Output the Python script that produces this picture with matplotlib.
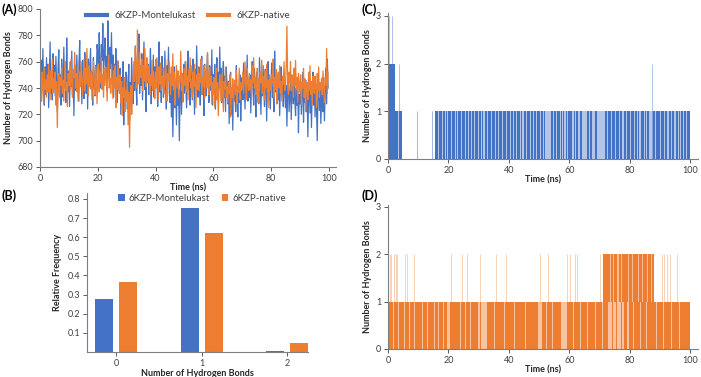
import matplotlib
matplotlib.use("Agg")
import matplotlib.pyplot as plt
import numpy as np

plt.rcParams["font.family"] = ["Lato", "DejaVu Sans"]

BLUE = "#4472C4"
ORANGE = "#ED7D31"
GREY = "#404040"

# ---- (A) total hydrogen bonds, one value every 0.25 ns ----
hb_mont = [
    752, 730, 761, 738, 770, 744, 727, 756, 735, 763,
    741, 758, 725, 749, 775, 736, 752, 731, 766, 743,
    757, 734, 764, 742, 722, 755, 769, 738, 750, 727,
    762, 745, 733, 771, 740, 756, 729, 778, 746, 737,
    753, 726, 760, 741, 768, 735, 749, 719, 758, 744,
    738, 765, 747, 730, 759, 776, 742, 753, 728, 761,
    745, 732, 767, 750, 736, 758, 724, 762, 741, 755,
    770, 739, 752, 727, 763, 745, 734, 757, 748, 773,
    768, 745, 782, 756, 740, 773, 761, 789, 750, 766,
    778, 752, 764, 738, 791, 759, 747, 771, 755, 782,
    746, 765, 733, 758, 742, 770, 751, 729, 760, 744,
    737, 755, 720, 748, 731, 760, 712, 745, 727, 752,
    749, 724, 739, 758, 716, 744, 733, 763, 740, 728,
    755, 738, 772, 745, 727, 760, 750, 781, 736, 757,
    742, 766, 731, 753, 775, 739, 748, 722, 761, 744,
    758, 735, 749, 770, 728, 752, 741, 765, 733, 756,
    740, 762, 747, 726, 758, 775, 737, 751, 729, 764,
    752, 733, 745, 768, 740, 724, 757, 746, 771, 737,
    729, 750, 718, 742, 703, 735, 756, 725, 744, 712,
    748, 727, 739, 700, 733, 752, 720, 745, 730, 758,
    736, 760, 742, 725, 753, 768, 739, 748, 727, 757,
    743, 731, 762, 749, 720, 754, 738, 772, 745, 733,
    756, 740, 727, 750, 764, 735, 746, 719, 758, 741,
    734, 753, 766, 742, 729, 757, 745, 738, 769, 727,
    750, 737, 758, 724, 747, 763, 732, 752, 740, 771,
    738, 755, 729, 746, 760, 733, 749, 722, 756, 742,
    728, 745, 713, 739, 752, 720, 736, 708, 741, 730,
    744, 722, 757, 733, 718, 740, 729, 750, 715, 737,
    748, 731, 759, 742, 724, 753, 737, 765, 730, 745,
    733, 750, 721, 746, 760, 739, 727, 755, 742, 718,
    752, 736, 745, 728, 763, 741, 720, 749, 734, 757,
    738, 726, 754, 743, 715, 747, 760, 731, 746, 724,
    745, 759, 733, 740, 722, 768, 737, 750, 728, 744,
    731, 748, 719, 742, 756, 735, 745, 726, 752, 739,
    725, 742, 711, 737, 750, 722, 733, 745, 716, 738,
    742, 728, 755, 730, 719, 740, 727, 748, 706, 735,
    728, 745, 720, 736, 752, 714, 740, 729, 746, 722,
    737, 703, 733, 748, 721, 741, 710, 736, 752, 727,
    745, 718, 739, 726, 700, 735, 744, 723, 740, 713,
    730, 748, 722, 741, 715, 738, 755, 728, 762, 740,
]
hb_native = [
    735, 748, 730, 752, 741, 728, 755, 739, 746, 733,
    750, 737, 758, 744, 731, 753, 740, 762, 736, 747,
    739, 752, 727, 745, 710, 738, 751, 733, 748, 742,
    755, 736, 746, 730, 749, 760, 738, 744, 726, 751,
    742, 756, 739, 762, 745, 733, 754, 748, 767, 740,
    751, 737, 758, 744, 730, 752, 741, 760, 746, 735,
    749, 762, 738, 755, 743, 770, 747, 734, 757, 745,
    740, 753, 731, 748, 760, 742, 735, 756, 749, 728,
    746, 758, 737, 752, 744, 763, 739, 750, 733, 755,
    742, 756, 748, 730, 751, 765, 740, 747, 736, 758,
    744, 732, 753, 740, 757, 725, 748, 739, 761, 743,
    736, 750, 728, 745, 719, 740, 733, 748, 722, 738,
    730, 745, 712, 737, 695, 728, 742, 720, 736, 748,
    760, 745, 771, 752, 740, 784, 756, 743, 767, 750,
    748, 762, 738, 757, 745, 770, 752, 741, 763, 749,
    744, 757, 735, 750, 742, 761, 738, 753, 746, 732,
    752, 740, 763, 745, 731, 756, 743, 759, 738, 749,
    741, 755, 736, 748, 762, 744, 730, 751, 745, 760,
    748, 735, 756, 742, 766, 739, 752, 727, 745, 757,
    740, 753, 733, 749, 744, 768, 738, 751, 729, 746,
    755, 742, 760, 737, 749, 731, 754, 745, 763, 740,
    746, 733, 752, 741, 758, 744, 725, 750, 739, 756,
    738, 751, 745, 762, 735, 748, 741, 757, 732, 749,
    753, 740, 767, 746, 735, 755, 742, 749, 728, 744,
    735, 748, 726, 742, 755, 731, 744, 719, 738, 750,
    743, 730, 751, 737, 722, 745, 739, 756, 733, 741,
    729, 744, 736, 750, 718, 740, 733, 747, 725, 742,
    746, 735, 753, 728, 741, 737, 755, 731, 744, 738,
    740, 752, 736, 748, 760, 742, 731, 755, 745, 738,
    751, 739, 746, 733, 757, 744, 763, 740, 748, 735,
    742, 755, 729, 747, 738, 752, 744, 761, 736, 749,
    745, 731, 753, 740, 758, 737, 746, 725, 750, 742,
    738, 750, 744, 762, 733, 748, 739, 754, 728, 746,
    752, 740, 757, 736, 745, 730, 749, 743, 760, 738,
    741, 756, 787, 748, 735, 752, 744, 760, 738, 750,
    746, 733, 755, 742, 761, 739, 748, 729, 751, 743,
    737, 750, 728, 745, 740, 755, 733, 747, 722, 741,
    744, 731, 752, 738, 757, 735, 745, 727, 749, 740,
    736, 749, 742, 725, 751, 738, 756, 733, 744, 739,
    747, 735, 753, 740, 729, 748, 742, 770, 736, 752,
]
time_a = np.arange(len(hb_mont)) * 0.25

# ---- (B) relative frequency of ligand-protein H-bond counts ----
bond_counts = [0, 1, 2]
freq_mont = [0.278, 0.75, 0.007]
freq_native = [0.367, 0.623, 0.047]

# ---- (C) montelukast H-bonds over time (intervals in ns) ----
c_one_light = [(0, 4.6), (15.7, 99.8)]
c_one_solid = [(0, 1.3), (1.6, 2.5), (2.8, 3.3), (3.6, 4.6),
               (15.7, 16.6), (16.9, 17.8), (18.1, 18.9), (19.2, 19.6), (20.0, 20.9),
               (21.1, 22.2), (22.5, 23.0), (23.3, 24.2), (24.6, 25.4), (25.7, 26.5),
               (26.8, 27.5), (27.9, 28.6), (28.9, 29.8), (30.1, 30.9), (31.2, 31.6),
               (32.0, 32.9), (33.2, 34.0), (34.3, 35.5), (35.8, 36.4), (36.7, 37.8),
               (38.1, 39.0), (39.3, 40.4), (40.7, 41.5), (41.8, 42.3), (42.7, 43.6),
               (43.9, 44.5), (44.9, 45.8), (46.1, 47.0), (47.4, 48.1), (48.4, 48.9),
               (49.3, 50.2), (50.5, 51.2), (51.5, 52.0), (53.9, 54.6), (55.0, 55.5),
               (55.9, 56.8), (57.1, 57.6), (58.0, 58.4), (58.8, 59.3), (59.7, 60.9),
               (61.4, 62.0), (62.3, 63.0), (63.5, 64.3), (66.0, 66.6), (67.0, 67.5),
               (68.6, 69.3), (71.8, 72.6), (72.9, 73.9), (74.2, 75.2), (75.5, 76.4),
               (76.7, 77.6), (78.0, 78.9), (79.2, 80.0), (80.4, 81.3), (81.6, 82.5),
               (82.8, 83.2), (83.7, 84.6), (84.9, 85.3), (85.8, 86.5), (87.7, 88.5),
               (88.8, 90.0), (90.3, 91.4), (91.7, 92.5), (92.9, 93.8), (94.1, 94.8),
               (95.2, 95.9), (96.3, 96.7), (97.0, 97.8), (98.1, 98.5), (98.8, 99.8)]
c_two_solid = [(0.2, 2.2)]
c_one_lines = [9.6, 14.5]
c_two_lines = [3.5, 87.3]
c_three_lines = [0.3, 1.2]

# ---- (D) native ligand H-bonds over time (intervals in ns) ----
d_one_light = [(0, 99.8)]
d_one_solid = [(0, 1.6), (1.9, 3.4), (3.7, 5.2), (5.5, 7.0), (7.4, 8.7), (9.0, 11.2),
               (11.5, 13.0), (13.4, 15.1), (15.5, 16.6), (16.9, 18.2), (18.6, 19.6),
               (20.5, 21.7), (22.0, 23.7), (24.1, 25.6), (25.9, 27.3), (27.6, 29.9),
               (30.3, 30.8), (32.9, 35.2), (35.5, 38.4), (38.7, 41.8), (42.1, 45.5),
               (45.8, 49.6), (51.1, 52.2), (52.6, 54.3), (54.6, 57.4), (59.3, 61.2),
               (61.6, 63.4), (63.8, 65.9), (66.2, 68.4), (68.7, 70.8), (71.1, 72.8),
               (74.0, 74.4), (75.4, 75.8), (77.0, 77.5), (78.2, 79.2), (79.6, 81.0),
               (81.3, 83.5), (83.9, 85.4), (85.7, 88.6), (89.0, 91.0), (91.3, 93.6),
               (93.9, 96.2), (96.5, 99.8)]
d_two_light = [(71.1, 87.9)]
d_two_solid = [(71.1, 73.4), (73.7, 74.6), (74.9, 75.9), (76.3, 77.0), (77.4, 78.3),
               (78.6, 79.5), (79.9, 80.8), (81.2, 82.6), (83.0, 84.1), (84.5, 85.7),
               (86.1, 87.0), (87.3, 87.9)]
d_two_lines = [0.5, 1.0, 1.9, 2.5, 3.0, 5.6, 6.2, 8.5, 20.8, 24.5, 26.1, 30.5,
               35.6, 39.1, 50.2, 52.9, 59.4, 60.2, 61.8, 62.4, 70.2, 90.6, 91.5,
               92.4, 93.2, 95.5]


def style(ax, fs=6.5):
    for s in ("top", "right"):
        ax.spines[s].set_visible(False)
    for s in ("left", "bottom"):
        ax.spines[s].set_color("#7f7f7f")
        ax.spines[s].set_linewidth(0.8)
    ax.tick_params(labelsize=fs, colors=GREY, length=3, width=0.6, pad=2)


def spans(ax, intervals, color, bottom=0, top=1, alpha=1.0):
    starts = [a for a, b in intervals]
    widths = [b - a for a, b in intervals]
    ax.bar(starts, [top - bottom] * len(starts), width=widths, bottom=bottom,
           align="edge", color=color, alpha=alpha, linewidth=0)


LAB = dict(fontsize=6.5, fontweight="bold", color="#262626")

W, H = 701, 377
fig = plt.figure(figsize=(W / 100, H / 100), dpi=100)

# ---- panel A ----
axA = fig.add_axes([40 / W, 1 - 167 / H, 296 / W, 158 / H])
axA.plot(time_a, hb_mont, color=BLUE, lw=0.9, label="6KZP-Montelukast")
axA.plot(time_a, hb_native, color=ORANGE, lw=0.9, label="6KZP-native")
axA.set_xlim(0, 102.5)
axA.set_ylim(680, 800)
axA.set_xticks([0, 20, 40, 60, 80, 100])
axA.set_yticks(range(680, 801, 20))
style(axA)
axA.set_xlabel("Time (ns)", labelpad=0, **LAB)
axA.set_ylabel("Number of Hydrogen Bonds", labelpad=3, **LAB)
legA = axA.legend(loc="upper center", bbox_to_anchor=(0.5, 1.04), ncol=2,
                  frameon=False, fontsize=7, handlelength=2.2, columnspacing=1.2,
                  labelcolor=GREY)
for h in legA.get_lines():
    h.set_linewidth(3)

# ---- panel B ----
axB = fig.add_axes([87 / W, 1 - 352 / H, 221 / W, 159 / H])
x = np.arange(len(bond_counts))
axB.bar(x - 0.14, freq_mont, width=0.21, color=BLUE, label="6KZP-Montelukast")
axB.bar(x + 0.14, freq_native, width=0.21, color=ORANGE, label="6KZP-native")
axB.set_xlim(-0.34, 2.24)
axB.set_ylim(0, 0.831)
axB.set_xticks(x)
axB.set_xticklabels([str(c) for c in bond_counts])
axB.set_yticks([0.1, 0.2, 0.3, 0.4, 0.5, 0.6, 0.7, 0.8])
style(axB)
axB.set_xlabel("Number of Hydrogen Bonds", labelpad=1, **LAB)
axB.set_ylabel("Relative Frequency", labelpad=4, **LAB)
axB.legend(loc="upper center", bbox_to_anchor=(0.52, 1.05), ncol=2, frameon=False,
           fontsize=7, handlelength=0.7, handleheight=0.7, columnspacing=1.2,
           handletextpad=0.4, labelcolor=GREY)

# ---- panel C ----
axC = fig.add_axes([388 / W, 1 - 159 / H, 310 / W, 146 / H])
spans(axC, c_one_light, BLUE, alpha=0.4)
spans(axC, c_one_solid, BLUE)
spans(axC, c_two_solid, BLUE, top=2)
axC.vlines(c_one_lines, 0, 1, color=BLUE, lw=0.6, alpha=0.6)
axC.vlines(c_two_lines, 0, 2, color=BLUE, lw=0.6, alpha=0.5)
axC.vlines(c_three_lines, 0, 3, color=BLUE, lw=0.6, alpha=0.5)
axC.set_xlim(0, 102.6)
axC.set_ylim(0, 3.06)
axC.set_xticks([0, 20, 40, 60, 80, 100])
axC.set_yticks([0, 1, 2, 3])
style(axC)
axC.set_xlabel("Time (ns)", labelpad=0, **LAB)
axC.set_ylabel("Number of Hydrogen Bonds", labelpad=3, **LAB)

# ---- panel D ----
axD = fig.add_axes([388 / W, 1 - 349 / H, 310 / W, 144 / H])
spans(axD, d_one_light, ORANGE, alpha=0.45)
spans(axD, d_one_solid, ORANGE)
spans(axD, d_two_light, ORANGE, bottom=1, top=2, alpha=0.5)
spans(axD, d_two_solid, ORANGE, bottom=1, top=2)
axD.vlines(d_two_lines, 1, 2, color=ORANGE, lw=0.6, alpha=0.4)
axD.set_xlim(0, 102.6)
axD.set_ylim(0, 3.04)
axD.set_xticks([0, 20, 40, 60, 80, 100])
axD.set_yticks([0, 1, 2, 3])
style(axD)
axD.set_xlabel("Time (ns)", labelpad=0, **LAB)
axD.set_ylabel("Number of Hydrogen Bonds", labelpad=3, **LAB)

# panel letters
for lbl, px, py in [("(A)", 2, 10), ("(B)", 2, 196), ("(C)", 361, 10), ("(D)", 361, 196)]:
    fig.text(px / W, 1 - py / H, lbl, fontsize=9, fontweight="bold", va="center")

fig.savefig("out.png", dpi=100)
